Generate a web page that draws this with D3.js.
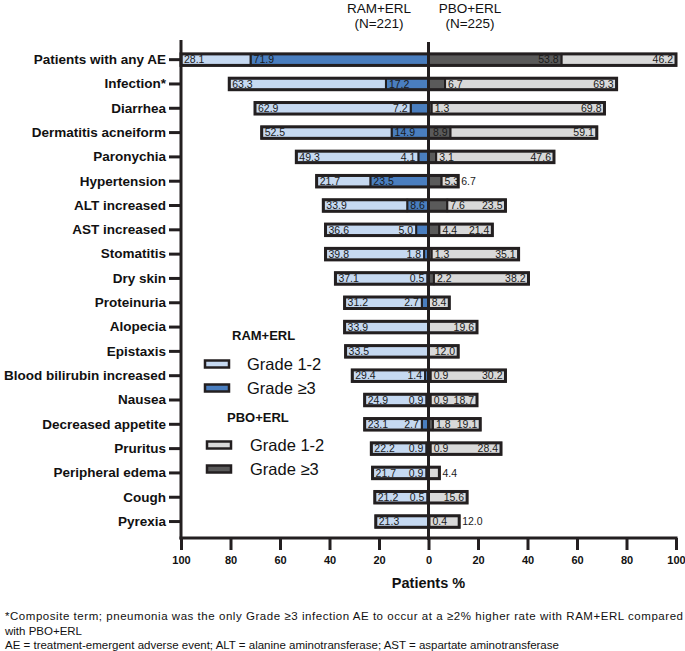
<!DOCTYPE html>
<html>
<head>
<meta charset="utf-8">
<script src="https://cdn.jsdelivr.net/npm/d3@7"></script>
<style>
  html, body { margin: 0; padding: 0; background: #fff; }
  svg { display: block; font-family: "Liberation Sans", Arial, sans-serif; }
</style>
</head>
<body>
<svg id="chart" width="685" height="651"></svg>
<script>
const categories = ["Patients with any AE", "Infection*", "Diarrhea", "Dermatitis acneiform", "Paronychia",
  "Hypertension", "ALT increased", "AST increased", "Stomatitis", "Dry skin", "Proteinuria", "Alopecia",
  "Epistaxis", "Blood bilirubin increased", "Nausea", "Decreased appetite", "Pruritus", "Peripheral edema",
  "Cough", "Pyrexia"];
const ramGrade12 = [28.1, 63.3, 62.9, 52.5, 49.3, 21.7, 33.9, 36.6, 39.8, 37.1, 31.2, 33.9, 33.5, 29.4, 24.9, 23.1, 22.2, 21.7, 21.2, 21.3];
const ramGrade3  = [71.9, 17.2, 7.2, 14.9, 4.1, 23.5, 8.6, 5.0, 1.8, 0.5, 2.7, 0, 0, 1.4, 0.9, 2.7, 0.9, 0.9, 0.5, 0];
const pboGrade12 = [46.2, 69.3, 69.8, 59.1, 47.6, 6.7, 23.5, 21.4, 35.1, 38.2, 8.4, 19.6, 12.0, 30.2, 18.7, 19.1, 28.4, 4.4, 15.6, 12.0];
const pboGrade3  = [53.8, 6.7, 1.3, 8.9, 3.1, 5.3, 7.6, 4.4, 1.3, 2.2, 0, 0, 0, 0.9, 0.9, 1.8, 0.9, 0, 0, 0.4];
const xTicks = [-100, -80, -60, -40, -20, 0, 20, 40, 60, 80, 100];
const groupHeaders = [["RAM+ERL", "(N=221)"], ["PBO+ERL", "(N=225)"]];
const legendLabels = ["Grade 1-2", "Grade \u22653"];
const footnotes = [
  "*Composite term; pneumonia was the only Grade \u22653 infection AE to occur at a \u22652% higher rate with RAM+ERL compared",
  "with PBO+ERL",
  "AE = treatment-emergent adverse event; ALT = alanine aminotransferase; AST = aspartate aminotransferase"
];

const COLORS = { ram12: "#c6d9f1", ram3: "#4a7ebf", pbo12: "#d9d9d9", pbo3: "#5a5a5a", ink: "#231f20" };

const svg = d3.select("#chart");
const x = d3.scaleLinear().domain([-100, 100]).range([181, 676]);
const y = d3.scaleBand().domain(categories).range([47.5, 533.7]).padding(0);
const barH = 11.5;
const x0 = x(0);

const rows = categories.map((c, i) => ({
  cat: c, r12: ramGrade12[i], r3: ramGrade3[i], p12: pboGrade12[i], p3: pboGrade3[i]
}));

const gBars = svg.append("g");
const fmt = d3.format(".1f");
const labelSize = 10.5;
const pad = 3;

const ctx = document.createElement("canvas").getContext("2d");
function tw(s, font) {
  ctx.font = font || (labelSize + "px 'Liberation Sans', Arial, sans-serif");
  return ctx.measureText(s).width;
}
// check for a condensed font for the tick labels
const narrowOK = tw("100", "bold 13px 'Liberation Sans Narrow', monospace") !== tw("100", "bold 13px monospace");
const tickFont = narrowOK ? "'Liberation Sans Narrow', 'Liberation Sans', Arial, sans-serif" : "'Liberation Sans', Arial, sans-serif";
const tickSize = narrowOK ? 13 : 11;

rows.forEach(d => {
  const cy = y(d.cat) + y.bandwidth() / 2;
  const top = cy - barH / 2;
  const g = gBars.append("g");
  [[-1, d.r3, d.r12, COLORS.ram3, COLORS.ram12], [1, d.p3, d.p12, COLORS.pbo3, COLORS.pbo12]].forEach(([dir, v3, v12, c3, c12]) => {
    const xb = x(dir * v3);
    const xe = x(dir * (v3 + v12));
    if (v3 > 0) {
      g.append("rect").attr("x", Math.min(x0, xb)).attr("y", top).attr("width", Math.abs(xb - x0)).attr("height", barH)
        .attr("fill", c3).attr("stroke", COLORS.ink).attr("stroke-width", 2);
    }
    g.append("rect").attr("x", Math.min(xb, xe)).attr("y", top).attr("width", Math.abs(xe - xb)).attr("height", barH)
      .attr("fill", c12).attr("stroke", COLORS.ink).attr("stroke-width", 2);
    g.append("rect").attr("x", Math.min(x0, xe)).attr("y", top).attr("width", Math.abs(xe - x0)).attr("height", barH)
      .attr("fill", "none").attr("stroke", COLORS.ink).attr("stroke-width", 3);

    const ty = cy + 3.7;
    let used = 0;
    if (v3 > 0) {
      const s = fmt(v3), w = tw(s);
      const inside = Math.abs(xb - x0) >= w + 5;
      let anchor, tx;
      if (inside) { tx = xb - dir * pad; anchor = dir < 0 ? "start" : "end"; }
      else { tx = xb + dir * pad; anchor = dir < 0 ? "end" : "start"; used = w + pad + 2; }
      g.append("text").attr("x", tx).attr("y", ty).attr("text-anchor", anchor)
        .attr("font-size", labelSize).attr("fill", "#1a1a1a").text(s);
    }
    const s12 = fmt(v12), w12 = tw(s12);
    const avail = Math.abs(xe - xb) - used;
    const fits = avail >= w12 + 4;
    const tx12 = fits ? xe - dir * pad : xe + dir * 3;
    const anchor12 = fits ? (dir < 0 ? "start" : "end") : (dir < 0 ? "end" : "start");
    g.append("text").attr("x", tx12).attr("y", ty).attr("text-anchor", anchor12)
      .attr("font-size", labelSize).attr("fill", "#1a1a1a").text(s12);
  });
});

// center line
svg.append("line").attr("x1", x0).attr("x2", x0).attr("y1", 42).attr("y2", 540)
  .attr("stroke", COLORS.ink).attr("stroke-width", 3);

// left axis with category labels
const yAxis = d3.axisLeft(y).tickSize(12).tickPadding(3);
const gy = svg.append("g").attr("transform", `translate(${x(-100)},0)`).call(yAxis);
gy.select(".domain").remove();
gy.selectAll(".tick line").attr("stroke", COLORS.ink).attr("stroke-width", 3);
gy.selectAll(".tick text").attr("font-size", 13.5).attr("font-weight", "bold").attr("fill", "#111")
  .attr("font-family", "'Liberation Sans', Arial, sans-serif");
svg.append("line").attr("x1", x(-100)).attr("x2", x(-100)).attr("y1", 40).attr("y2", 539.5)
  .attr("stroke", COLORS.ink).attr("stroke-width", 3);

// bottom axis
const xAxis = d3.axisBottom(x).tickValues(xTicks).tickFormat(v => Math.abs(v)).tickSize(12).tickPadding(6);
const gx = svg.append("g").attr("transform", "translate(0,538)").call(xAxis);
gx.select(".domain").attr("stroke", COLORS.ink).attr("stroke-width", 3).attr("d", `M${x(-100) - 1.5},0H${x(100) + 1.5}`);
gx.selectAll(".tick line").attr("stroke", COLORS.ink).attr("stroke-width", 3);
gx.selectAll(".tick text").attr("font-size", tickSize).attr("font-weight", "bold").attr("fill", "#111")
  .attr("font-family", tickFont);

svg.append("text").attr("x", x0).attr("y", 588).attr("text-anchor", "middle")
  .attr("font-size", 14.5).attr("font-weight", "bold").attr("fill", "#111").text("Patients %");

// group headers
[[379, groupHeaders[0]], [470, groupHeaders[1]]].forEach(([cx, lines]) => {
  lines.forEach((t, i) => {
    svg.append("text").attr("x", cx).attr("y", 13 + i * 15).attr("text-anchor", "middle")
      .attr("font-size", 13.5).attr("fill", "#111").text(t);
  });
});

// legend
const legend = [
  { title: "RAM+ERL", tx: 232, ty: 340, items: [[COLORS.ram12, 364], [COLORS.ram3, 388]], sx: 205, lx: 247 },
  { title: "PBO+ERL", tx: 227, ty: 422, items: [[COLORS.pbo12, 445], [COLORS.pbo3, 469]], sx: 207, lx: 250 }
];
legend.forEach(L => {
  svg.append("text").attr("x", L.tx).attr("y", L.ty).attr("font-size", 13).attr("font-weight", "bold")
    .attr("fill", "#111").text(L.title);
  L.items.forEach(([c, cy], i) => {
    svg.append("rect").attr("x", L.sx).attr("y", cy - 3.5).attr("width", 24).attr("height", 7)
      .attr("fill", c).attr("stroke", COLORS.ink).attr("stroke-width", 2.5);
    svg.append("text").attr("x", L.lx).attr("y", cy + 6).attr("font-size", 16.5).attr("fill", "#111").text(legendLabels[i]);
  });
});

// footnotes (first line is justified to the full width)
footnotes.forEach((t, i) => {
  const tx = svg.append("text").attr("x", 5).attr("y", 620 + i * 14.5).attr("font-size", 11.5).attr("fill", "#111").text(t);
  if (i === 0) tx.attr("textLength", 678).attr("lengthAdjust", "spacing");
});
</script>
</body>
</html>
